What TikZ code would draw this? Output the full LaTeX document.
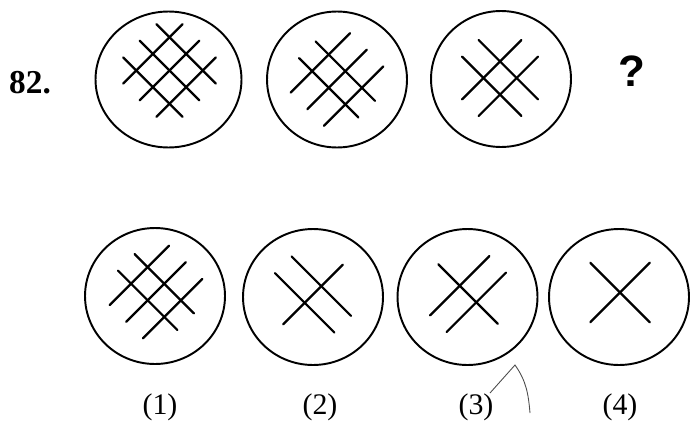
\documentclass[tikz,border=0pt]{standalone}
\usepackage{fontspec}
\setmainfont{Liberation Serif}
\newfontfamily\qmarkfont{Liberation Sans}
\usepackage{tikz}
\usetikzlibrary{calc,shapes.geometric}

% hatch pattern: centre, number of "\" lines, number of "/" lines
\newcommand{\hatch}[3]{%
  \begin{scope}[shift={#1}, rotate=45]
    \foreach \k in {1,...,#2}
      \draw[hatchline] ({(\k-(#2+1)/2)*23.5}, -42) -- ++(0, 84);
    \foreach \k in {1,...,#3}
      \draw[hatchline] (-42, {(\k-(#3+1)/2)*23.5}) -- ++(84, 0);
  \end{scope}}

\begin{document}
\begin{tikzpicture}[
  x=0.02cm, y=0.02cm,
  ring/.style={ellipse, draw, line width=1.1pt, minimum width=2.8cm,
    minimum height=2.72cm, inner sep=0pt},
  hatchline/.style={line width=1.3pt, line cap=round},
  optlabel/.style={font=\fontsize{17}{20}\selectfont},
  pencil/.style={draw=black!70, line width=0.5pt},
]
\useasboundingbox (0, 0) rectangle (692, 427);

% question row
\node[font=\fontsize{19}{22}\selectfont\bfseries] (num) at (30, 344) {82.};
\node[ring, minimum width=2.92cm, minimum height=2.72cm] (q1) at (168.5, 347.5) {};
\node[ring] (q2) at (337, 347.5) {};
\node[ring] (q3) at (501, 348) {};
\node[font=\qmarkfont\fontsize{25}{28}\selectfont\bfseries] (qm) at (632, 356) {?};

\hatch{($(q1)+(1,9)$)}{3}{3}
\hatch{(q2)}{2}{3}
\hatch{($(q3)+(-1,1)$)}{2}{2}

% answer row
\node[ring] (a1) at (155, 131) {};
\node[ring] (a2) at (313, 130) {};
\node[ring] (a3) at (467.5, 130) {};
\node[ring] (a4) at (619, 130) {};

\hatch{($(a1)+(1,4)$)}{2}{3}
\hatch{($(a2)+(0,2.5)$)}{2}{1}
\hatch{($(a3)+(0.5,3)$)}{1}{2}
\hatch{($(a4)+(1,4.5)$)}{1}{1}

\node[optlabel] (l1) at (160, 20) {(1)};
\node[optlabel] (l2) at (320, 20) {(2)};
\node[optlabel] (l3) at (476, 20) {(3)};
\node[optlabel] (l4) at (620, 20) {(4)};

% pencil tick
\draw[pencil] (490, 34) -- (515, 62) to[out=-55, in=95] (530, 14);
\end{tikzpicture}
\end{document}
